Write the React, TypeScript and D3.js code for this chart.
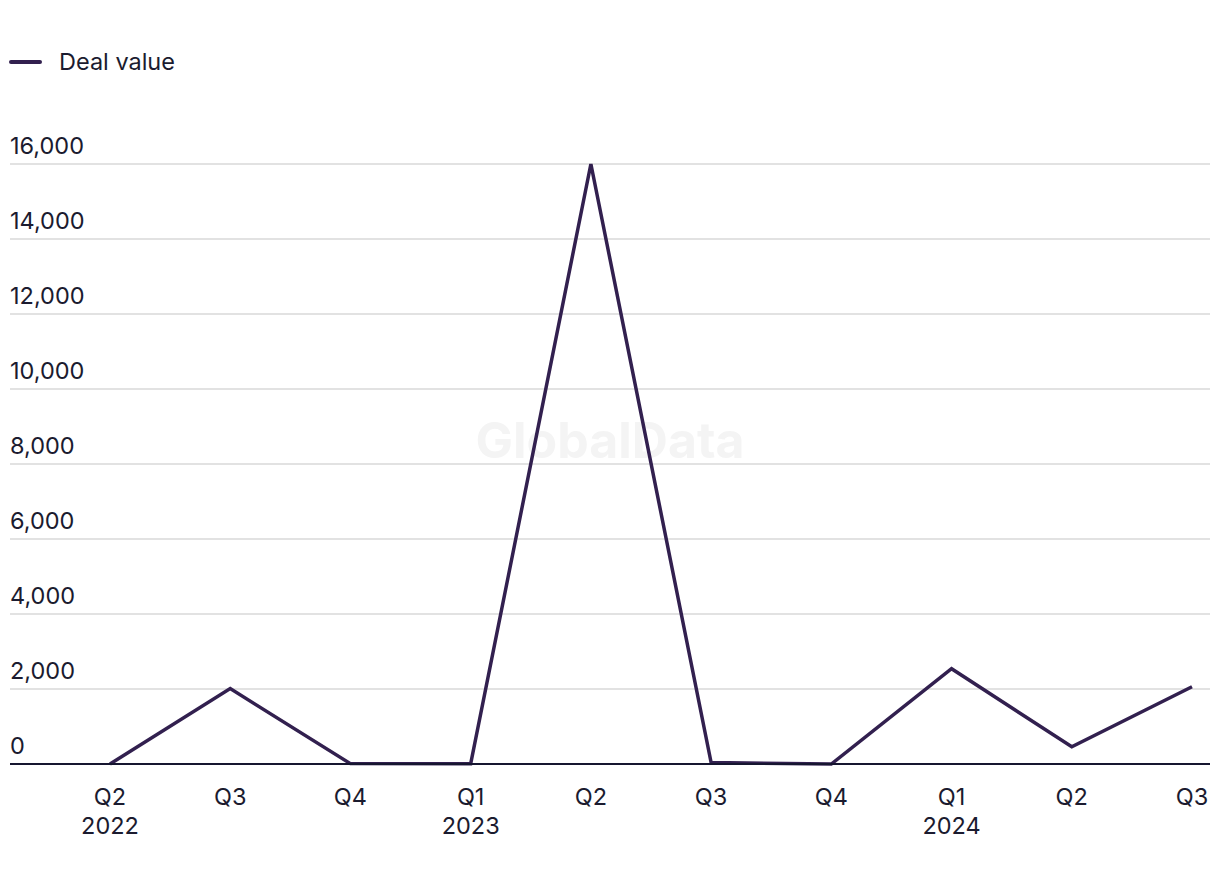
import React from "react";
import * as d3 from "d3";

const quarters = ["Q2", "Q3", "Q4", "Q1", "Q2", "Q3", "Q4", "Q1", "Q2", "Q3"];
const years = ["2022", "", "", "2023", "", "", "", "2024", "", ""];
const dealValue = [0, 2010, 10, 5, 16000, 40, 0, 2540, 460, 2060];
const yTicks = [0, 2000, 4000, 6000, 8000, 10000, 12000, 14000, 16000];
const seriesName = "Deal value";

const W = 1220;
const H = 884;
const FONT = "Inter, 'Noto Sans', sans-serif";
const FS = 23.5;

export default function App() {
  const keys = quarters.map((q, i) => `${q}-${i}`);
  const x = d3.scalePoint<string>().domain(keys).range([110, 1192]);
  const y = d3.scaleLinear().domain([0, 16000]).range([764, 164]);
  const line = d3
    .line<number>()
    .x((_, i) => x(keys[i]) as number)
    .y((d) => y(d));
  const fmt = d3.format(",");

  return (
    <svg
      width={W}
      height={H}
      style={{ position: "absolute", left: 0, top: 0, background: "#fff" }}
      fontFamily={FONT}
    >
      <text
        x={610}
        y={458}
        textAnchor="middle"
        fontSize={50}
        fontWeight={700}
        fill="#f4f4f4"
      >
        GlobalData
      </text>
      {/* legend */}
      <line x1={11} x2={40} y1={62} y2={62} stroke="#32204f" strokeWidth={4} strokeLinecap="round" />
      <text x={59} y={69.5} fontSize={FS} fill="#1b1b2f">
        {seriesName}
      </text>
      {/* grid + y labels */}
      {yTicks.map((t) => (
        <g key={t}>
          {t !== 0 && (
            <line x1={10} x2={1210} y1={y(t)} y2={y(t)} stroke="#d9d9d9" strokeWidth={1.5} />
          )}
          <text x={10} y={y(t) - 10.5} fontSize={FS} fill="#1b1b2f">
            {fmt(t)}
          </text>
        </g>
      ))}
      {/* x labels */}
      {keys.map((k, i) => (
        <g key={k}>
          <text x={x(k)} y={804.5} textAnchor="middle" fontSize={FS} fill="#1b1b2f">
            {quarters[i]}
          </text>
          {years[i] && (
            <text x={x(k)} y={833.5} textAnchor="middle" fontSize={FS} fill="#1b1b2f">
              {years[i]}
            </text>
          )}
        </g>
      ))}
      <path d={line(dealValue) || ""} fill="none" stroke="#32204f" strokeWidth={3.5} strokeLinejoin="miter" />
      <line x1={10} x2={1210} y1={y(0)} y2={y(0)} stroke="#161630" strokeWidth={2} />
    </svg>
  );
}
